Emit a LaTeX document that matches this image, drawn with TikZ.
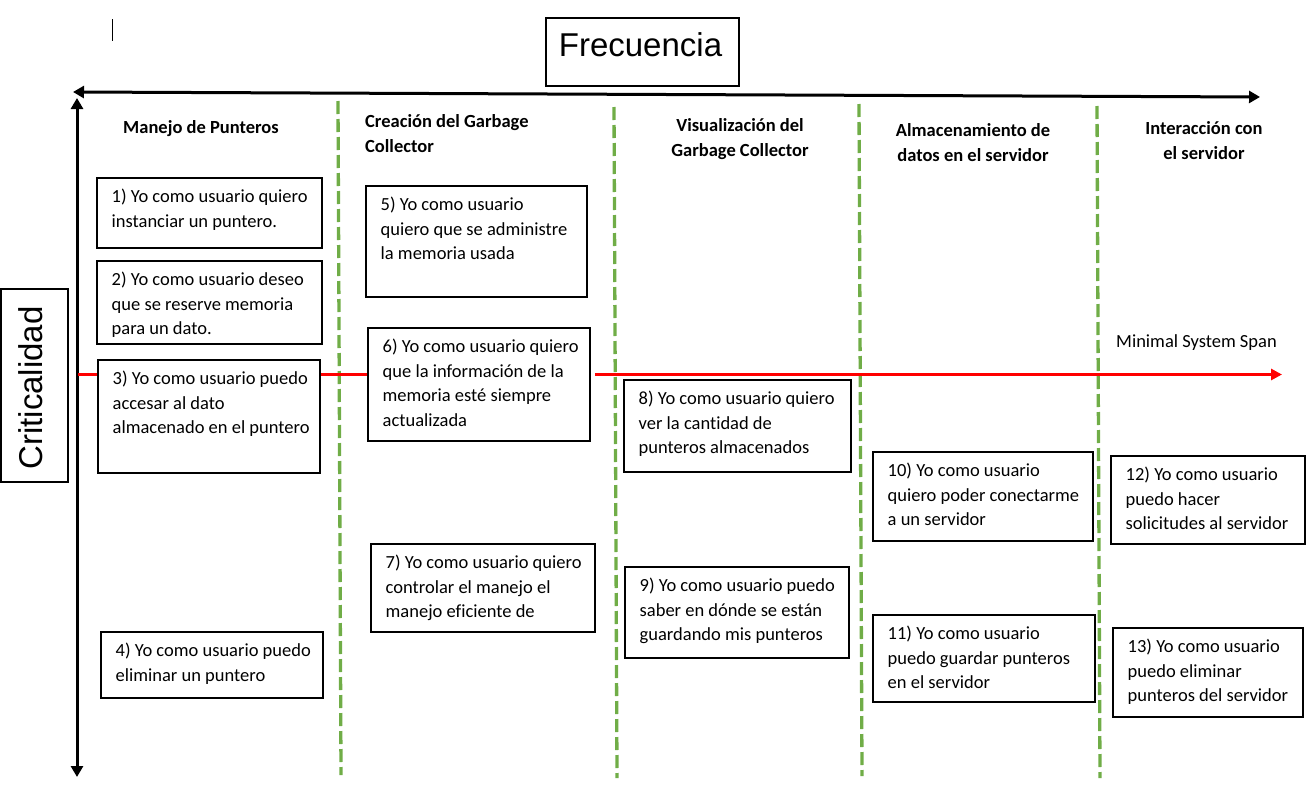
\documentclass[tikz,border=0pt]{standalone}
\usepackage{fontspec}
\setmainfont{Carlito}[Ligatures=NoCommon]
\newfontfamily\arialf{Liberation Sans}
\usetikzlibrary{arrows.meta}
\definecolor{dashgreen}{HTML}{70AD47}
\newcommand\storynode[6]{%
  \node[storybox,minimum width=#4pt,minimum height=#5pt] (#1) at (#2,#3) {};
  \node[storytext] (#1t) at ([xshift=14.5pt,yshift=-8.5pt]#1.north west) {\rule{0pt}{16pt}#6};}
\begin{document}
\begin{tikzpicture}[x=1pt,y=-1pt,
  storybox/.style={draw=black,line width=2pt,fill=white,inner sep=0pt,outer sep=0pt,anchor=north west},
  storytext/.style={anchor=north west,inner sep=0pt,align=left,font=\fontsize{18.5}{24.5}\selectfont},
  header/.style={inner sep=0pt,font=\fontsize{18.5}{25}\selectfont\bfseries},
  divider/.style={dashgreen,line width=3.3pt,dash pattern=on 13pt off 5pt},
  axis/.style={black,line width=3pt},
  span/.style={red,line width=3pt},
  titlebox/.style={draw=black,line width=1.2pt,inner sep=0pt,outer sep=0pt,anchor=north west},
  titletext/.style={inner sep=0pt,font=\arialf\fontsize{33}{38}\selectfont}]
\useasboundingbox (0,0) rectangle (1308,811);

% cursor mark
\draw[black,line width=1pt] (112,19) -- (112,41);

% title boxes
\node[titlebox,minimum width=193pt,minimum height=68pt] (freqbox) at (546,18) {};
\node[titletext] (freq) at (640.5,45) {Frecuencia};
\node[titlebox,minimum width=67pt,minimum height=193pt] (critbox) at (1,289) {};
\node[titletext,rotate=90] (crit) at (31,388) {Criticalidad};

% dividers
\draw[divider] (338,101) -- (341,775);
\draw[divider] (614,107) -- (617,778);
\draw[divider] (859,104) -- (862,776);
\draw[divider] (1097,106) -- (1100,778);

% axes
\coordinate (xL) at (73,92);
\coordinate (xR) at (1260,97);
\coordinate (yT) at (77,98);
\coordinate (yB) at (77,777);
\draw[axis,{Triangle[length=11pt,width=12pt]}-{Triangle[length=11pt,width=12pt]}] (xL) -- (xR);
\draw[axis,{Triangle[length=11pt,width=12pt]}-{Triangle[length=11pt,width=12pt]}] (yT) -- (yB);

% minimal system span (behind boxes)
\coordinate (spanL) at (78,374.5);
\coordinate (spanM) at (595,374.5);
\coordinate (spanE) at (1282,374.5);
\draw[span] (spanL) -- (370,374.5);
\draw[span,-{Triangle[length=11pt,width=11pt]}] (spanM) -- (spanE);
\node[anchor=base west,inner sep=0pt,font=\fontsize{18.5}{24.5}\selectfont] (mss) at (1116,347) {Minimal System Span};

% headers
\node[header,anchor=base] (h1) at (201,133.5) {Manejo de Punteros};
\node[header,anchor=north west,align=left] (h2) at (365,111.5) {\rule{0pt}{16pt}Creación del Garbage\\Collector};
\node[header,anchor=north,align=center] (h3) at (740,115.5) {\rule{0pt}{16pt}Visualización del\\Garbage Collector};
\node[header,anchor=north,align=center] (h4) at (973,120.5) {\rule{0pt}{16pt}Almacenamiento de\\datos en el servidor};
\node[header,anchor=north,align=center] (h5) at (1204,118.5) {\rule{0pt}{16pt}Interacción con\\el servidor};

% stories
\storynode{b1}{97}{178}{225}{70}{1) Yo como usuario quiero\\instanciar un puntero.}
\storynode{b2}{97}{261}{225}{83}{2) Yo como usuario deseo\\que se reserve memoria\\para un dato.}
\storynode{b3}{98}{360}{222}{113}{3) Yo como usuario puedo\\accesar al dato\\almacenado en el puntero}
\storynode{b4}{101}{632}{222}{66}{4) Yo como usuario puedo\\eliminar un puntero}
\storynode{b5}{366}{186}{221}{111}{5) Yo como usuario\\quiero que se administre\\la memoria usada}
\storynode{b6}{368}{328}{222}{113}{6) Yo como usuario quiero\\que la información de la\\memoria esté siempre\\actualizada}
\storynode{b7}{371}{544}{224}{88}{7) Yo como usuario quiero\\controlar el manejo el\\manejo eficiente de}
\storynode{b8}{624}{380}{227}{92}{8) Yo como usuario quiero\\ver la cantidad de\\punteros almacenados}
\storynode{b9}{625}{567}{224}{91}{9) Yo como usuario puedo\\saber en dónde se están\\guardando mis punteros}
\storynode{b10}{873}{452}{220}{89}{10) Yo como usuario\\quiero poder conectarme\\a un servidor}
\storynode{b11}{873}{615}{222}{87}{11) Yo como usuario\\puedo guardar punteros\\en el servidor}
\storynode{b12}{1111}{456}{194}{88}{12) Yo como usuario\\puedo hacer\\solicitudes al servidor}
\storynode{b13}{1113}{628}{190}{89}{13) Yo como usuario\\puedo eliminar\\punteros del servidor}
\end{tikzpicture}
\end{document}
